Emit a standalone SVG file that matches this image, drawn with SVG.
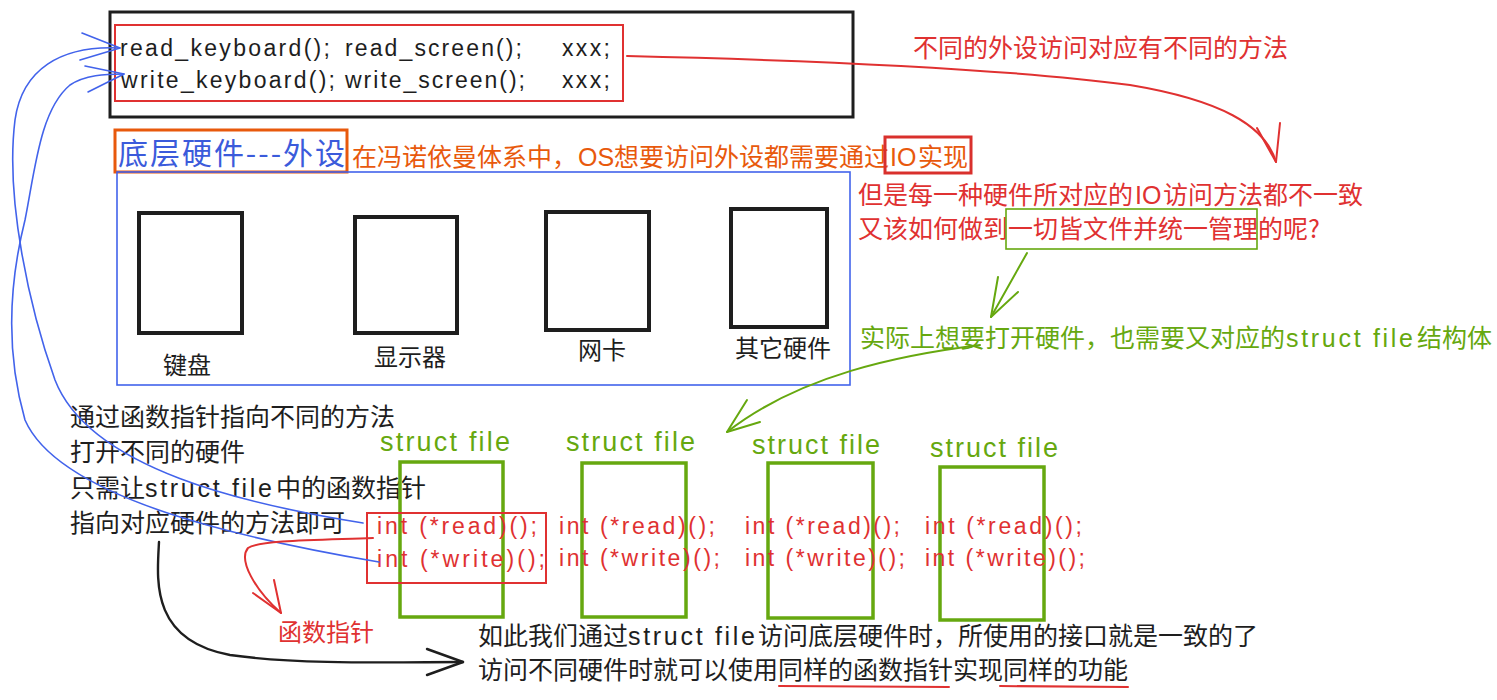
<svg xmlns="http://www.w3.org/2000/svg" width="1497" height="700" viewBox="0 0 1497 700">
<style>
text{font-family:"Liberation Sans","Noto Sans CJK SC",sans-serif;font-size:25px;fill:#1e1e1e}
.cjk{font-family:"Noto Sans CJK SC","Liberation Sans",sans-serif}
.red{fill:#e03131}
.org{fill:#e8590c}
.blu{fill:#3b5bdb}
.grn{fill:#66a80f}
.code{font-size:23px}
.sfl{font-size:27px}
.ttl{font-size:30px}
.hand{font-family:"Liberation Sans",sans-serif;letter-spacing:2.7px}
.lat{font-family:"Liberation Sans",sans-serif}
.lbl{font-size:24px}
.hw{fill:none;stroke:#1e1e1e;stroke-width:4}
.sf{fill:none;stroke:#66a80f;stroke-width:3.5}
.ln{fill:none;stroke-linecap:round;stroke-linejoin:round}
.lb{stroke:#4263eb;stroke-width:1.6}
.lr{stroke:#e03131;stroke-width:2}
.lg{stroke:#66a80f;stroke-width:2}
.lk{stroke:#1e1e1e;stroke-width:2.4}
</style>

<g id="top-box">
<rect x="110" y="12" width="743" height="105" fill="none" stroke="#1e1e1e" stroke-width="3"/>
<rect x="115" y="25" width="508" height="76" fill="none" stroke="#e03131" stroke-width="2"/>
<text class="code" x="120" y="56" textLength="210">read_keyboard();</text>
<text class="code" x="345" y="56" textLength="177">read_screen();</text>
<text class="code" x="562" y="56" textLength="48">xxx;</text>
<text class="code" x="121" y="88" textLength="214">write_keyboard();</text>
<text class="code" x="345" y="88" textLength="180">write_screen();</text>
<text class="code" x="562" y="88" textLength="48">xxx;</text>
</g>

<g id="note-methods">
<text class="cjk red" x="913" y="57">不同的外设访问对应有不同的方法</text>
</g>

<g id="hw-title">
<rect x="115" y="130" width="232" height="42" fill="none" stroke="#e8590c" stroke-width="3"/>
<text class="cjk blu ttl" x="118" y="164" textLength="227">底层硬件---外设</text>
</g>

<g id="note-io">
<text class="cjk org"><tspan x="352" y="166">在冯诺依曼体系中，</tspan><tspan x="578" y="166" class="lat">OS</tspan><tspan x="614" y="166">想要访问外设都需要通过</tspan><tspan x="890" y="166" class="lat">IO</tspan><tspan x="918" y="166">实现</tspan></text>
<rect x="885" y="137" width="86" height="36" fill="none" stroke="#d9302c" stroke-width="3"/>
</g>

<g id="hw-container">
<rect x="117" y="172" width="733" height="213" fill="none" stroke="#4263eb" stroke-width="1.6"/>
</g>

<g id="hw-keyboard">
<rect class="hw" x="139" y="213" width="103" height="120"/>
<text class="cjk lbl" x="163" y="374">键盘</text>
</g>
<g id="hw-screen">
<rect class="hw" x="355" y="217" width="102" height="116"/>
<text class="cjk lbl" x="374" y="366">显示器</text>
</g>
<g id="hw-nic">
<rect class="hw" x="546" y="212" width="103" height="118"/>
<text class="cjk lbl" x="578" y="359">网卡</text>
</g>
<g id="hw-other">
<rect class="hw" x="731" y="209" width="96" height="118"/>
<text class="cjk lbl" x="735" y="357">其它硬件</text>
</g>

<g id="note-question">
<text class="cjk red" x="858" y="204"><tspan>但是每一种硬件所对应的</tspan><tspan x="1135" class="lat">IO</tspan><tspan x="1163">访问方法都不一致</tspan></text>
<text class="cjk red" x="858" y="238">又该如何做到一切皆文件并统一管理的呢?</text>
<rect x="1006" y="209" width="251" height="40" fill="none" stroke="#66a80f" stroke-width="1.6"/>
</g>

<g id="note-struct">
<text class="cjk grn" x="860" y="347"><tspan>实际上想要打开硬件，也需要又对应的</tspan><tspan x="1286" class="hand">struct file</tspan><tspan x="1417">结构体</tspan></text>
</g>

<g id="note-left">
<text class="cjk" x="70" y="426">通过函数指针指向不同的方法</text>
<text class="cjk" x="70" y="461">打开不同的硬件</text>
<text class="cjk" x="70" y="497"><tspan>只需让</tspan><tspan x="145" class="hand">struct file</tspan><tspan x="276">中的函数指针</tspan></text>
<text class="cjk" x="70" y="532">指向对应硬件的方法即可</text>
</g>

<g id="struct-file-1">
<text class="grn sfl" x="380" y="451" textLength="130">struct file</text>
<rect class="sf" x="400" y="462" width="103" height="155"/>
<text class="red code" x="377" y="534" textLength="160">int (*read)();</text>
<text class="red code" x="377" y="567" textLength="168">int (*write)();</text>
<rect x="367" y="513" width="179" height="70" fill="none" stroke="#e03131" stroke-width="2"/>
</g>
<g id="struct-file-2">
<text class="grn sfl" x="566" y="451" textLength="129">struct file</text>
<rect class="sf" x="582" y="463" width="104" height="154"/>
<text class="red code" x="559" y="534" textLength="156">int (*read)();</text>
<text class="red code" x="559" y="566" textLength="161">int (*write)();</text>
</g>
<g id="struct-file-3">
<text class="grn sfl" x="752" y="454" textLength="128">struct file</text>
<rect class="sf" x="768" y="463" width="105" height="155"/>
<text class="red code" x="745" y="534" textLength="155">int (*read)();</text>
<text class="red code" x="745" y="566" textLength="160">int (*write)();</text>
</g>
<g id="struct-file-4">
<text class="grn sfl" x="930" y="457" textLength="128">struct file</text>
<rect class="sf" x="940" y="467" width="104" height="153"/>
<text class="red code" x="925" y="534" textLength="157">int (*read)();</text>
<text class="red code" x="925" y="566" textLength="160">int (*write)();</text>
</g>

<g id="label-fp">
<text class="cjk red lbl" x="278" y="641">函数指针</text>
</g>

<g id="note-bottom">
<text class="cjk" x="478" y="645"><tspan>如此我们通过</tspan><tspan x="628" class="hand">struct file</tspan><tspan x="758">访问底层硬件时，所使用的接口就是一致的了</tspan></text>
<text class="cjk" x="478" y="679">访问不同硬件时就可以使用同样的函数指针实现同样的功能</text>
</g>

<g id="connectors">
<path class="ln lb" d="M363 523 C250 505 90 470 55 380 C30 310 5 200 15 120 C22 70 60 45 120 48"/>
<path class="ln lb" d="M82 33 L120 48 L80 60"/>
<path class="ln lb" d="M379 562 C250 540 60 500 25 420 C5 350 10 280 25 220 C35 170 40 110 70 85 C85 75 105 74 124 74"/>
<path class="ln lb" d="M85 66 L124 74 L88 92"/>
<path class="ln lr" d="M627 56 C800 60 1000 68 1130 85 C1220 100 1265 125 1276 162"/>
<path class="ln lr" d="M1257 128 L1276 162 L1280 123"/>
<path class="ln lg" d="M1027 253 L991 317"/>
<path class="ln lg" d="M998 277 L991 317 L1018 292"/>
<path class="ln lg" d="M980 345 C900 355 800 375 727 432"/>
<path class="ln lg" d="M747 400 L727 432 L760 422"/>
<path class="ln lr" d="M373 538 C320 540 260 540 248 548 C238 560 255 590 281 613"/>
<path class="ln lr" d="M253 593 L281 613 L274 580"/>
<path class="ln lk" d="M159 542 C157 580 150 640 230 655 C300 665 400 662 463 662"/>
<path class="ln lk" d="M427 649 L463 662 L427 675"/>
<path class="ln lr" d="M779 686 L949 687"/>
<path class="ln lr" d="M1000 686 L1128 687"/>
</g>
</svg>
